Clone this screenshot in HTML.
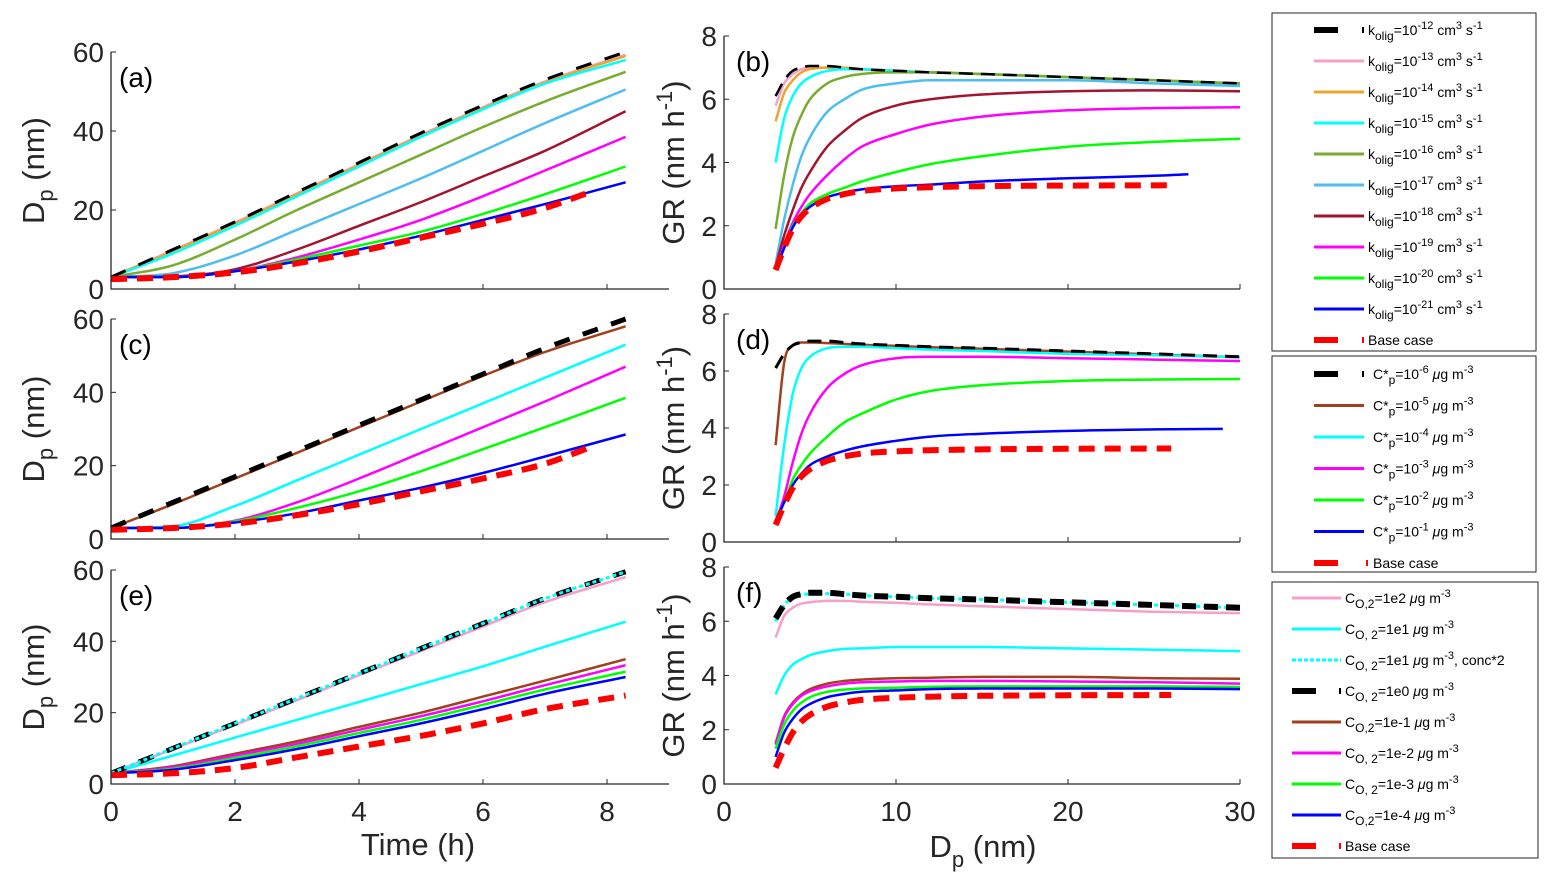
<!DOCTYPE html>
<html><head><meta charset="utf-8"><style>
body{margin:0;background:#fff}
svg{display:block;font-family:"Liberation Sans",Arial,sans-serif}
</style></head><body>
<svg id="fig" width="1552" height="891" viewBox="0 0 1552 891"></svg>
<script>
// ---------- DATA ----------
const timeH = [0,1,2,3,4,5,6,7,8.3];
const timeBase = [0,1,2,3,4,5,6,7,7.8];
const dpGrid = [3,3.5,4,4.5,5,6,7,8,10,12,15,20,25,30];
const dpBlueB = [3,3.5,4,4.5,5,6,7,8,10,12,15,20,25,27];
const dpBase = [3,3.5,4,4.5,5,6,7,8,10,12,15,20,26];
const dpBlueD = [3,3.5,4,4.5,5,6,7,8,10,12,15,20,25,29];
const xTicksTime = [0,2,4,6,8];
const yTicksDp = [0,20,40,60];
const xTicksDp = [0,10,20,30];
const yTicksGR = [0,2,4,6,8];

// (a)
const aK12 = [3,10,17,24.5,32,39.5,46.5,53,60];
const aK13 = [3,9.8,16.8,24.2,31.6,39,46,52.5,59.3];
const aK14 = [3,9.6,16.6,24,31.4,38.8,45.8,52.3,59];
const aK15 = [3,9,16,23.5,31,38.5,45.5,52,58];
const aK16 = [3,6,12.5,20,27,34,41,47.5,55];
const aK17 = [3,4,8.5,15,21.5,28,35,42,50.5];
const aK18 = [3,3.2,5,10,16,22,28.5,35,45];
const aK19 = [3,3,4.5,8,12.5,17.5,23.5,30,38.5];
const aK20 = [3,3,4.5,7.5,11,14.5,19,24,31];
const aK21 = [3,3,4.5,7,10,13.5,17.5,21.5,27];
const aBase = [2.5,3,4.2,6.5,9.5,13,16.5,20.5,25];
// (c)
const cC6 = [3,10,17,24,31,38,45,52,60];
const cC5 = [3,9.5,16.5,23.5,30.5,37.5,44.5,51,58];
const cC4 = [3,3.5,9,16,23,30,37,44,53];
const cC3 = [3,3,5,10,16.5,23.5,30.5,37.5,47];
const cC2 = [3,3,4.8,8.5,13,18.5,24.5,30.5,38.5];
const cC1 = [3,3,4.5,7,10.5,14,18,22.5,28.5];
const cBase = [2.5,3,4.2,6.5,9.5,13,16.5,20.5,25.5];
// (e)
const eE2 = [3,9.8,16.6,23.5,30.5,37.3,44.2,51,58];
const eE1 = [3,8,13,18,23,28,33,38.5,45.5];
const eE1x2 = [3,10,17,24,31,38,45,52,59.5];
const eE0 = [3,10,17,24,31,38,45,52,59.5];
const eEm1 = [3,5,8.5,12,16,20,24.5,29,35];
const eEm2 = [3,4.7,8,11.3,15.2,19,23.2,27.7,33.3];
const eEm3 = [3,4.3,7.3,10.6,14.3,18,22.2,26.5,31.5];
const eEm4 = [3,4,6.7,9.8,13.4,17,21,25.3,30];
const eBase = [2.5,3,4.5,7.5,10.5,13.5,17,21,24.8];

// (b)
const bK12 = [6.1,6.6,6.9,7.0,7.05,7.05,7.0,6.95,6.9,6.85,6.8,6.7,6.6,6.5];
const bK13 = [5.8,6.5,6.8,6.95,7.0,7.0,6.98,6.95,6.9,6.85,6.8,6.7,6.6,6.5];
const bK14 = [5.3,6.2,6.6,6.85,6.95,7.0,7.0,6.95,6.9,6.85,6.8,6.7,6.6,6.5];
const bK15 = [4.0,5.4,6.1,6.5,6.7,6.9,6.95,6.95,6.9,6.85,6.8,6.7,6.6,6.45];
const bK16 = [1.9,3.6,4.8,5.5,6.0,6.5,6.7,6.8,6.85,6.85,6.8,6.7,6.6,6.5];
const bK17 = [0.8,2.2,3.3,4.2,4.8,5.6,6.0,6.3,6.5,6.6,6.6,6.6,6.5,6.42];
const bK18 = [0.7,1.7,2.5,3.2,3.7,4.5,5.0,5.4,5.8,6.0,6.15,6.25,6.28,6.25];
const bK19 = [0.6,1.4,2.1,2.6,3.0,3.6,4.1,4.5,4.9,5.2,5.45,5.65,5.72,5.75];
const bK20 = [0.6,1.3,2.0,2.4,2.7,3.0,3.2,3.4,3.7,3.95,4.2,4.5,4.65,4.75];
const bK21 = [0.6,1.3,1.95,2.35,2.6,2.9,3.05,3.15,3.25,3.3,3.4,3.5,3.58,3.63];
const grBase = [0.6,1.3,1.9,2.3,2.55,2.85,3.0,3.1,3.18,3.22,3.25,3.27,3.28];
// (d)
const dC6 = [6.1,6.6,6.9,7.0,7.05,7.05,7.0,6.95,6.9,6.85,6.8,6.7,6.6,6.5];
const dC5 = [3.4,6.3,6.9,7.0,7.0,6.98,6.95,6.92,6.88,6.83,6.78,6.68,6.58,6.48];
const dC4 = [0.9,3.4,5.2,6.1,6.5,6.8,6.85,6.85,6.8,6.75,6.7,6.6,6.55,6.48];
const dC3 = [0.7,1.6,2.8,3.8,4.5,5.4,5.9,6.2,6.45,6.5,6.5,6.45,6.4,6.35];
const dC2 = [0.7,1.4,2.2,2.7,3.1,3.7,4.2,4.5,5.0,5.3,5.5,5.65,5.7,5.72];
const dC1 = [0.7,1.4,2.0,2.4,2.7,3.0,3.2,3.35,3.55,3.7,3.8,3.9,3.95,3.97];
// (f)
const fE0 = [6.1,6.6,6.9,7.0,7.05,7.05,7.0,6.95,6.9,6.85,6.8,6.7,6.6,6.5];
const fE1x2 = [6.0,6.6,6.85,7.0,7.0,7.02,7.0,6.95,6.9,6.85,6.8,6.7,6.6,6.5];
const fE2 = [5.4,6.2,6.5,6.65,6.7,6.75,6.75,6.72,6.68,6.62,6.55,6.45,6.35,6.3];
const fE1 = [3.3,4.0,4.4,4.6,4.75,4.9,4.98,5.0,5.05,5.05,5.05,5.0,4.95,4.9];
const fEm1 = [1.5,2.5,3.0,3.3,3.5,3.7,3.8,3.85,3.9,3.92,3.95,3.95,3.9,3.88];
const fEm2 = [1.45,2.45,2.95,3.25,3.42,3.6,3.7,3.75,3.78,3.8,3.8,3.78,3.75,3.7];
const fEm3 = [1.3,2.2,2.7,3.0,3.2,3.4,3.48,3.52,3.55,3.58,3.6,3.6,3.6,3.58];
const fEm4 = [1.0,1.9,2.4,2.75,2.95,3.2,3.32,3.4,3.45,3.5,3.52,3.52,3.52,3.5];

// ---------- DRAW ----------
const NS='http://www.w3.org/2000/svg';
const svg=document.getElementById('fig');
function mk(tag,attrs,parent){const e=document.createElementNS(NS,tag);for(const k in attrs)e.setAttribute(k,attrs[k]);(parent||svg).appendChild(e);return e;}

const C={black:'#000',pink:'#f79fc8',orange:'#eba530',cyan:'#00ffff',olive:'#77ac30',lblue:'#4dbeee',dred:'#a2142f',mag:'#ff00ff',green:'#00ff00',blue:'#0000ff',red:'#ff0000',brown:'#a0401c'};

// monotone cubic (Fritsch-Carlson) path through points
function smoothPath(P){
  const n=P.length; if(n<2) return '';
  const d=[],m=[];
  for(let i=0;i<n-1;i++){const dx=P[i+1][0]-P[i][0];d.push(dx?(P[i+1][1]-P[i][1])/dx:0);}
  m[0]=d[0];m[n-1]=d[n-2];
  for(let i=1;i<n-1;i++){m[i]=(d[i-1]*d[i]<=0)?0:(d[i-1]+d[i])/2;}
  for(let i=0;i<n-1;i++){if(d[i]===0){m[i]=0;m[i+1]=0;continue;}
    const a=m[i]/d[i],b=m[i+1]/d[i],s=a*a+b*b;if(s>9){const t=3/Math.sqrt(s);m[i]=t*a*d[i];m[i+1]=t*b*d[i];}}
  let s='M'+P[0][0].toFixed(1)+' '+P[0][1].toFixed(1);
  for(let i=0;i<n-1;i++){const h=(P[i+1][0]-P[i][0])/3;
    s+='C'+(P[i][0]+h).toFixed(1)+' '+(P[i][1]+m[i]*h).toFixed(1)+' '+(P[i+1][0]-h).toFixed(1)+' '+(P[i+1][1]-m[i+1]*h).toFixed(1)+' '+P[i+1][0].toFixed(1)+' '+P[i+1][1].toFixed(1);}
  return s;
}

function panel(o){
  const g=mk('g',{});
  
  
  const sx=v=>o.x0+(v-o.xmin)/(o.xmax-o.xmin)*(o.x1-o.x0);
  const sy=v=>o.y0-(v-o.ymin)/(o.ymax-o.ymin)*(o.y0-o.y1);
  o.series.forEach(s=>{
    const pts=s.y.map((v,i)=>[sx(s.x[i]),sy(v)]);
    const p=mk('path',{d:smoothPath(pts),fill:'none',stroke:s.c,'stroke-width':s.w||2.5,'stroke-dasharray':s.dash||'none','stroke-linejoin':'round'},g);
    
    
  });
  const ax=mk('path',{d:`M${o.x0} ${o.y1}L${o.x0} ${o.y0}L${o.x1} ${o.y0}`,fill:'none',stroke:'#262626','stroke-width':1.3},g);
  
  
  o.xt.forEach(v=>{
    mk('line',{x1:sx(v),x2:sx(v),y1:o.y0,y2:o.y0-5,stroke:'#262626','stroke-width':1},g);
    if(o.showX){const t=mk('text',{x:sx(v),y:o.y0+37,'font-size':28,'text-anchor':'middle',fill:'#262626'},g);t.textContent=v;
      }
  });
  o.yt.forEach(v=>{
    mk('line',{x1:o.x0,x2:o.x0+5,y1:sy(v),y2:sy(v),stroke:'#262626','stroke-width':1},g);
    const t=mk('text',{x:o.x0-7,y:sy(v)+10,'font-size':28,'text-anchor':'end',fill:'#262626'},g);t.textContent=v;
    
  });
  const lab=mk('text',{x:o.x0+(o.lx||8),y:o.y1+35,'font-size':28,fill:'#000'},g);lab.textContent=o.label;
  
  const cy=(o.y0+o.y1)/2;
  const yt=mk('text',{transform:`translate(${o.ytx},${cy}) rotate(-90)`,'font-size':31,'text-anchor':'middle',fill:'#262626'},g);
  
  if(o.kind==='dp'){yt.innerHTML='D<tspan dy="9" font-size="22">p</tspan><tspan dy="-9"> (nm)</tspan>';}
  else{yt.innerHTML='GR (nm h<tspan dy="-12" font-size="22">-1</tspan><tspan dy="12">)</tspan>';}
}

const L={x0:111,x1:669,xmin:0,xmax:9,ymin:0,ymax:60,xt:xTicksTime,yt:yTicksDp,kind:'dp',ytx:44};
const R={x0:724,x1:1240,xmin:0,xmax:30,ymin:0,ymax:8,xt:xTicksDp,yt:yTicksGR,kind:'gr',ytx:684,lx:12};
const dashK='14 8', dashKL='16 14', dashR='16 10';

panel(Object.assign({},L,{name:'panel-a',label:'(a)',y0:289,y1:52,showX:false,series:[
 {n:'k13',x:timeH,y:aK13,c:C.pink},{n:'k14',x:timeH,y:aK14,c:C.orange},{n:'k15',x:timeH,y:aK15,c:C.cyan},
 {n:'k16',x:timeH,y:aK16,c:C.olive},{n:'k17',x:timeH,y:aK17,c:C.lblue},{n:'k18',x:timeH,y:aK18,c:C.dred},
 {n:'k19',x:timeH,y:aK19,c:C.mag},{n:'k20',x:timeH,y:aK20,c:C.green},{n:'k21',x:timeH,y:aK21,c:C.blue},
 {n:'k12',x:timeH,y:aK12,c:C.black,w:3,dash:dashKL},{n:'base-case',x:timeBase,y:aBase,c:C.red,w:6,dash:dashR}]}));
panel(Object.assign({},L,{name:'panel-c',label:'(c)',y0:539,y1:319,showX:false,series:[
 {n:'c5',x:timeH,y:cC5,c:C.brown},{n:'c4',x:timeH,y:cC4,c:C.cyan},{n:'c3',x:timeH,y:cC3,c:C.mag},
 {n:'c2',x:timeH,y:cC2,c:C.green},{n:'c1',x:timeH,y:cC1,c:C.blue},
 {n:'c6',x:timeH,y:cC6,c:C.black,w:5,dash:dashKL},{n:'base-case',x:timeBase,y:cBase,c:C.red,w:6,dash:dashR}]}));
panel(Object.assign({},L,{name:'panel-e',label:'(e)',y0:784,y1:570,showX:true,series:[
 {n:'co2-1e2',x:timeH,y:eE2,c:C.pink},{n:'co2-1e1',x:timeH,y:eE1,c:C.cyan},
 {n:'co2-1e-1',x:timeH,y:eEm1,c:C.brown},{n:'co2-1e-2',x:timeH,y:eEm2,c:C.mag},{n:'co2-1e-3',x:timeH,y:eEm3,c:C.green},{n:'co2-1e-4',x:timeH,y:eEm4,c:C.blue},
 {n:'co2-1e0',x:timeH,y:eE0,c:C.black,w:5,dash:dashKL},{n:'co2-1e1-conc2',x:timeH,y:eE1x2,c:C.cyan,w:3,dash:'4 3'},
 {n:'base-case',x:timeH,y:eBase,c:C.red,w:6,dash:dashR}]}));

panel(Object.assign({},R,{name:'panel-b',label:'(b)',y0:289,y1:36,showX:false,series:[
 {n:'k13',x:dpGrid,y:bK13,c:C.pink},{n:'k14',x:dpGrid,y:bK14,c:C.orange},{n:'k15',x:dpGrid,y:bK15,c:C.cyan},
 {n:'k16',x:dpGrid,y:bK16,c:C.olive},{n:'k17',x:dpGrid,y:bK17,c:C.lblue},{n:'k18',x:dpGrid,y:bK18,c:C.dred},
 {n:'k19',x:dpGrid,y:bK19,c:C.mag},{n:'k20',x:dpGrid,y:bK20,c:C.green},{n:'k21',x:dpBlueB,y:bK21,c:C.blue},
 {n:'k12',x:dpGrid,y:bK12,c:C.black,w:2.5,dash:dashK},{n:'base-case',x:dpBase,y:grBase,c:C.red,w:6,dash:dashR}]}));
panel(Object.assign({},R,{name:'panel-d',label:'(d)',y0:542,y1:314,showX:false,series:[
 {n:'c5',x:dpGrid,y:dC5,c:C.brown},{n:'c4',x:dpGrid,y:dC4,c:C.cyan},{n:'c3',x:dpGrid,y:dC3,c:C.mag},
 {n:'c2',x:dpGrid,y:dC2,c:C.green},{n:'c1',x:dpBlueD,y:dC1,c:C.blue},
 {n:'c6',x:dpGrid,y:dC6,c:C.black,w:3,dash:dashK},{n:'base-case',x:dpBase,y:grBase,c:C.red,w:6,dash:dashR}]}));
panel(Object.assign({},R,{name:'panel-f',label:'(f)',y0:784,y1:567,showX:true,series:[
 {n:'co2-1e2',x:dpGrid,y:fE2,c:C.pink},{n:'co2-1e1',x:dpGrid,y:fE1,c:C.cyan},
 {n:'co2-1e-1',x:dpGrid,y:fEm1,c:C.brown},{n:'co2-1e-2',x:dpGrid,y:fEm2,c:C.mag},{n:'co2-1e-3',x:dpGrid,y:fEm3,c:C.green},{n:'co2-1e-4',x:dpGrid,y:fEm4,c:C.blue},
 {n:'co2-1e1-conc2',x:dpGrid,y:fE1x2,c:C.cyan,w:3,dash:'4 3'},{n:'co2-1e0',x:dpGrid,y:fE0,c:C.black,w:6,dash:dashK},
 {n:'base-case',x:dpBase,y:grBase,c:C.red,w:6,dash:dashR}]}));

let t=mk('text',{x:418,y:855,'font-size':31,'text-anchor':'middle',fill:'#262626'});t.textContent='Time (h)';

t=mk('text',{x:983,y:857,'font-size':31,'text-anchor':'middle',fill:'#262626'});
t.innerHTML='D<tspan dy="10" font-size="22">p</tspan><tspan dy="-10"> (nm)</tspan>';


// ---------- LEGENDS ----------
const leg1Labels=['-12','-13','-14','-15','-16','-17','-18','-19','-20','-21'];
const leg1Colors=[C.black,C.pink,C.orange,C.cyan,C.olive,C.lblue,C.dred,C.mag,C.green,C.blue];
const leg2Labels=['-6','-5','-4','-3','-2','-1'];
const leg2Colors=[C.black,C.brown,C.cyan,C.mag,C.green,C.blue];
const leg3Labels=['1e2','1e1','1e1','1e0','1e-1','1e-2','1e-3','1e-4'];
const leg3Colors=[C.pink,C.cyan,C.cyan,C.black,C.brown,C.mag,C.green,C.blue];

function legBox(name,x,y,w,h){const r=mk('rect',{x:x,y:y,width:w,height:h,fill:'#fff',stroke:'#262626','stroke-width':1});
 }
function sample(x0,x1,y,c,kind){
  if(kind==='thick'){mk('line',{x1:x0,x2:x0+24,y1:y,y2:y,stroke:c,'stroke-width':6});mk('line',{x1:x1-2,x2:x1,y1:y,y2:y,stroke:c,'stroke-width':6});}
  else if(kind==='dot'){mk('line',{x1:x0,x2:x1,y1:y,y2:y,stroke:c,'stroke-width':3,'stroke-dasharray':'4 2'});}
  else mk('line',{x1:x0,x2:x1,y1:y,y2:y,stroke:c,'stroke-width':3});
}
function ltext(x,y,html,name){const e=mk('text',{x:x,y:y+5,'font-size':14,fill:'#000'});e.innerHTML=html;
 }

legBox('legend-kolig',1272,13,264,338);
leg1Labels.forEach((l,i)=>{const y=30+i*31;sample(1314,1364,y,leg1Colors[i],i===0?'thick':'line');
 ltext(1368,y,`k<tspan dy="5" font-size="12">olig</tspan><tspan dy="-5">=10</tspan><tspan dy="-6" font-size="11">${l}</tspan><tspan dy="6"> cm</tspan><tspan dy="-6" font-size="11">3</tspan><tspan dy="6"> s</tspan><tspan dy="-6" font-size="11">-1</tspan>`,'legend-entry');});
sample(1314,1364,340,C.red,'thick');ltext(1368,340,'Base case','legend-entry');

legBox('legend-cstar',1272,356,264,216);
leg2Labels.forEach((l,i)=>{const y=374+i*31.5;sample(1314,1364,y,leg2Colors[i],i===0?'thick':'line');
 ltext(1373,y,`C*<tspan dy="5" font-size="12">p</tspan><tspan dy="-5">=10</tspan><tspan dy="-6" font-size="11">${l}</tspan><tspan dy="6"> </tspan><tspan font-style="italic">μ</tspan>g m<tspan dy="-6" font-size="11">-3</tspan>`,'legend-entry');});
sample(1314,1368,563,C.red,'thick');ltext(1373,563,'Base case','legend-entry');

legBox('legend-co2',1272,582,266,276);
leg3Labels.forEach((l,i)=>{const y=598+i*31;sample(1292,1341,y,leg3Colors[i],i===3?'thick':(i===2?'dot':'line'));
 const sub=(i===1||i===2||i===3||i===5||i===6)?'O, 2':'O,2';
 ltext(1345,y,`C<tspan dy="5" font-size="12">${sub}</tspan><tspan dy="-5">=${l} </tspan><tspan font-style="italic">μ</tspan>g m<tspan dy="-6" font-size="11">-3</tspan><tspan dy="6">${i===2?', conc*2':''}</tspan>`,'legend-entry');});
sample(1292,1341,846,C.red,'thick');ltext(1345,846,'Base case','legend-entry');
</script>
</body></html>
